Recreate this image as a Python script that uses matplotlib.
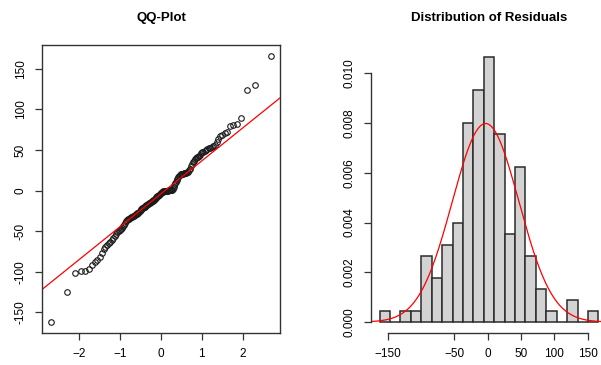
import numpy as np
import matplotlib
matplotlib.use("Agg")
import matplotlib.pyplot as plt
from statistics import NormalDist

plt.rcParams["font.family"] = ["Liberation Sans", "DejaVu Sans"]

# model residuals, sorted
residuals = [
    -162, -125, -101,
    -99.3, -98.5, -97, -92, -88, -85,
    -82, -77, -72, -69.5,
    -67, -65, -63, -61, -59, -56.5, -54,
    -51.5, -50, -48.5, -47, -45.5, -44, -42, -40, -38,
    -36.5, -35.5, -35, -34, -33, -32, -31.5, -31, -30, -29, -28.5, -27.5,
    -27, -26, -25, -24, -23, -22,
    -21, -20.3, -19.6, -19, -18.3, -17.6, -17, -16.3, -15.6, -15, -14.3,
    -13.6, -13, -12.3, -11.6, -11, -10, -9, -8, -7, -6.2,
    -5.5, -4.8, -4, -3.2, -2.5, -1.8, -1.2, -0.6, -0.3, 0, 0, 0, 0, 0,
    0.2, 0.4, 0.6, 0.8, 1, 1.3, 2.5, 4.5, 7, 9.5,
    10.5, 12.5, 14.5, 16.5, 18, 19, 20, 20.3, 20.6, 21, 21.3, 21.6, 21.9,
    22.2, 22.5, 23, 25,
    27, 30, 33, 35, 37, 38.5, 40, 41,
    42, 43, 44.5, 46, 47, 48, 49, 50, 51, 52, 53, 54, 55, 56,
    60, 64, 67, 69, 71, 72,
    80, 81, 82,
    90,
    124, 130,
    166,
]
n_bins = 21
hist_ticks = [-150, -50, 0, 50, 100, 150]
density_ticks = [0.000, 0.002, 0.004, 0.006, 0.008, 0.010]
qq_xticks = [-2, -1, 0, 1, 2]
qq_yticks = [-150, -100, -50, 0, 50, 100, 150]

res = np.sort(np.array(residuals, dtype=float))
n = len(res)
nd = NormalDist()
theo = np.array([nd.inv_cdf((i - 0.5) / n) for i in range(1, n + 1)])

axis_col = "#333333"
fs = 8.5

fig = plt.figure(figsize=(6.01, 3.65), dpi=100)
bottom, height = 0.0885, 0.7874
ax1 = fig.add_axes([42 / 601, bottom, 238 / 601, height])
ax2 = fig.add_axes([371 / 601, bottom, 230 / 601, height])

# --- QQ plot ---
ax1.plot(theo, res, "o", mfc="none", mec="#1a1a1a", ms=4, mew=0.8)
q1, q3 = np.percentile(res, [25, 75])
z1, z3 = nd.inv_cdf(0.25), nd.inv_cdf(0.75)
slope = (q3 - q1) / (z3 - z1)
icpt = q1 - slope * z1
ax1.axline((0, icpt), slope=slope, color="red", lw=0.9)
xr = theo.max() - theo.min()
yr = res.max() - res.min()
ax1.set_xlim(theo.min() - 0.04 * xr, theo.max() + 0.04 * xr)
ax1.set_ylim(res.min() - 0.04 * yr, res.max() + 0.04 * yr)
ax1.set_xticks(qq_xticks)
ax1.set_yticks(qq_yticks)
ax1.set_yticklabels([str(v) for v in qq_yticks], rotation=90, va="center")
for sp in ax1.spines.values():
    sp.set_color(axis_col)
    sp.set_linewidth(1.0)
ax1.tick_params(length=5, width=0.9, color=axis_col, labelsize=fs, pad=6)
fig.text(161 / 601, 0.951, "QQ-Plot", ha="center", va="center",
         fontsize=9.5, fontweight="bold")

# --- histogram with normal curve ---
ax2.hist(res, bins=n_bins, density=True, color="#d3d3d3",
         edgecolor="#2b2b2b", linewidth=1.1)
mu, sd = res.mean(), res.std(ddof=1)
xs = np.linspace(-175, 175, 400)
ax2.plot(xs, np.exp(-0.5 * ((xs - mu) / sd) ** 2) / (sd * np.sqrt(2 * np.pi)),
         color="red", lw=0.9)
ax2.set_xlim(-175, 170)
ax2.set_ylim(-0.000428, 0.01113)
ax2.set_xticks(hist_ticks)
ax2.set_yticks(density_ticks)
ax2.set_yticklabels([f"{v:.3f}" for v in density_ticks], rotation=90, va="center")
ax2.spines["top"].set_visible(False)
ax2.spines["right"].set_visible(False)
ax2.spines["left"].set_bounds(0, 0.010)
ax2.spines["bottom"].set_bounds(-150, 150)
for sp in ("left", "bottom"):
    ax2.spines[sp].set_color(axis_col)
    ax2.spines[sp].set_linewidth(1.0)
ax2.tick_params(length=5, width=0.9, color=axis_col, labelsize=fs, pad=6)
fig.text(489.5 / 601, 0.951, "Distribution of Residuals", ha="center",
         va="center", fontsize=9.5, fontweight="bold")

fig.savefig("out.png", dpi=100)
